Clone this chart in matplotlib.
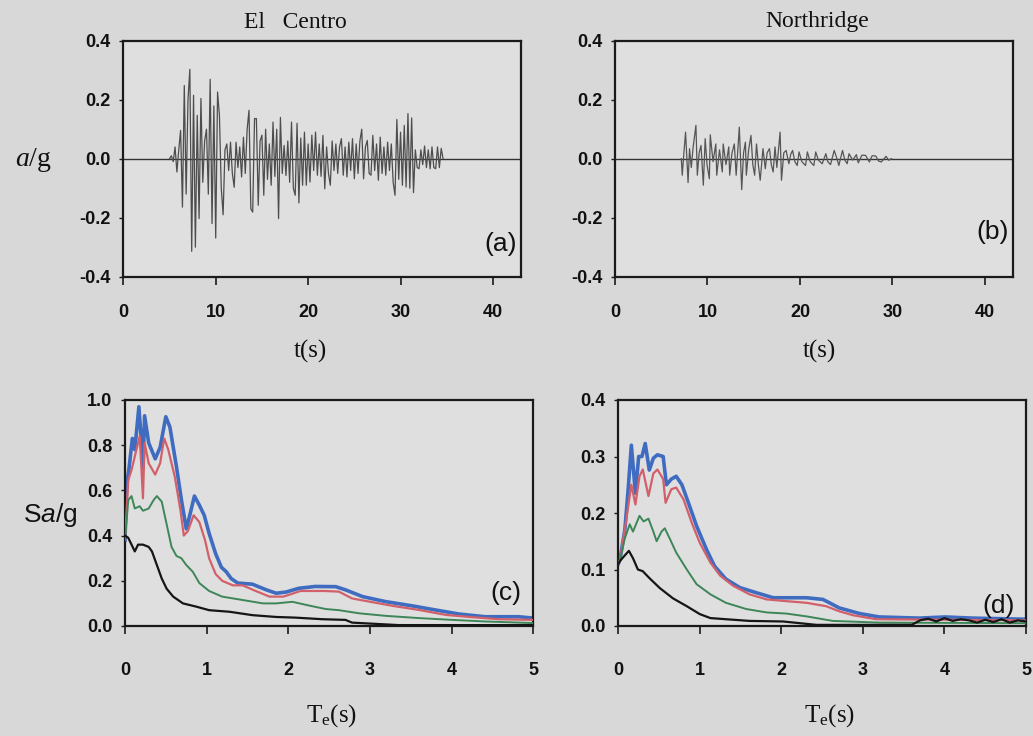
import numpy as np
import matplotlib
matplotlib.use("Agg")
import matplotlib.pyplot as plt

# ---------------- data ----------------
# (a) El Centro accelerogram, sampled every 0.2 s starting at 5.0 s
elc_t0 = 5.0
elc_dt = 0.2
elc_acc = [
    0.0, 0.01, -0.01, 0.04, -0.045,
    0.03, 0.096, -0.164, 0.248, -0.12,
    0.2, 0.303, -0.314, 0.215, -0.30,
    0.147, -0.203, 0.204, -0.08, 0.06,
    0.10, -0.12, 0.269, -0.22, 0.179,
    -0.269, 0.226, 0.147, -0.10, -0.19,
    0.03, 0.05, -0.04, 0.056, -0.05,
    -0.097, 0.056, -0.03, 0.04, -0.062,
    0.073, -0.05, 0.10, 0.164, -0.17,
    -0.181, 0.136, 0.136, -0.158, 0.06,
    0.08, -0.124, 0.10, -0.07, 0.05,
    -0.09, 0.124, -0.06, 0.10, -0.203,
    0.14, -0.05, 0.045, -0.057, 0.06,
    -0.08, 0.124, -0.10, -0.124, 0.12,
    -0.15, 0.07, -0.09, 0.09, -0.09,
    0.05, -0.079, 0.08, -0.04, 0.09,
    -0.056, 0.05, -0.06, 0.079, -0.102,
    0.04, -0.05, -0.09, 0.06, -0.04,
    0.05, -0.05, 0.04, 0.068, -0.056,
    0.04, -0.062, 0.056, -0.04, 0.068,
    -0.068, 0.05, -0.05, 0.06, 0.10,
    -0.068, 0.04, 0.062, -0.05, -0.056,
    0.079, -0.04, 0.05, -0.073, 0.073,
    -0.05, 0.04, -0.056, 0.056, -0.04,
    0.05, -0.08, -0.124, 0.133, -0.07,
    0.09, -0.09, 0.113, -0.096, 0.153,
    -0.10, 0.138, -0.115, 0.03, -0.03,
    -0.034, 0.03, -0.02, 0.043, -0.03,
    0.03, -0.034, 0.04, -0.03, -0.034,
    0.04, -0.03, 0.035, 0.0,
]

# (b) Northridge accelerogram
nor_t = [7.17, 7.27, 7.45, 7.63, 7.9, 8.06, 8.25, 8.45, 8.75, 8.9, 9.1, 9.3, 9.55,
         9.75, 9.95, 10.2, 10.3, 10.6, 10.9, 11.0, 11.3, 11.6, 11.7, 12.0, 12.3,
         12.4, 12.65, 12.9, 13.1, 13.44, 13.7, 13.9, 14.1, 14.2, 14.45, 14.7, 14.9,
         15.1, 15.3, 15.5, 15.7, 16.0, 16.25, 16.45, 16.7, 16.9, 17.1, 17.3, 17.5,
         17.85, 18.0, 18.25, 18.5, 18.8, 19.0, 19.2, 19.45, 19.7, 19.9, 20.2, 20.6,
         20.8, 21.1, 21.5, 21.7, 22.0, 22.4, 22.8, 23.0, 23.3, 23.7, 24.0, 24.2,
         24.6, 24.85, 25.1, 25.3, 25.7, 26.1, 26.3, 26.7, 27.1, 27.5, 27.8, 28.2,
         28.5, 28.8, 29.3, 29.6, 29.9]
nor_acc = [0.0, -0.056, 0.02, 0.09, -0.081, 0.034, -0.03, 0.04, 0.113, -0.056, 0.02,
           0.045, -0.09, 0.068, -0.02, -0.068, 0.081, -0.01, 0.05, -0.056, 0.03,
           -0.045, 0.05, -0.02, 0.04, -0.056, 0.02, 0.05, -0.056, 0.107, -0.105,
           0.02, 0.056, -0.056, 0.03, 0.079, -0.02, -0.056, 0.05, -0.02, -0.073,
           0.034, -0.034, 0.02, 0.034, -0.02, -0.045, 0.04, -0.03, 0.09, -0.073,
           0.02, 0.028, -0.017, 0.015, 0.028, -0.01, -0.023, 0.023, -0.01, -0.023,
           0.023, -0.01, -0.023, 0.023, -0.005, -0.017, 0.017, -0.01, -0.02, 0.028,
           0.0, -0.023, 0.028, -0.005, -0.017, 0.017, -0.005, 0.014, -0.014, 0.012,
           0.011, -0.011, 0.01, 0.009, -0.008, -0.011, 0.008, -0.005, 0.0]

# (c) El Centro response spectra
elc_T_blue = [0.0, 0.02, 0.05, 0.09, 0.12, 0.17, 0.20, 0.22, 0.24, 0.29, 0.37, 0.43,
              0.50, 0.55, 0.63, 0.69, 0.75, 0.79, 0.85, 0.91, 0.97, 1.03, 1.11, 1.18,
              1.24, 1.30, 1.38, 1.56, 1.73, 1.85, 1.97, 2.13, 2.33, 2.58, 2.70, 2.91,
              3.19, 3.52, 3.80, 4.09, 4.41, 4.82, 5.0]
elc_S_blue = [0.38, 0.62, 0.70, 0.83, 0.78, 0.97, 0.82, 0.70, 0.93, 0.81, 0.74, 0.79,
              0.926, 0.88, 0.705, 0.56, 0.43, 0.485, 0.575, 0.535, 0.49, 0.41, 0.32,
              0.26, 0.24, 0.21, 0.19, 0.185, 0.16, 0.145, 0.15, 0.167, 0.175, 0.174,
              0.16, 0.13, 0.108, 0.089, 0.071, 0.053, 0.041, 0.041, 0.035]
elc_T_red = [0.0, 0.04, 0.08, 0.14, 0.18, 0.22, 0.24, 0.29, 0.37, 0.43, 0.48, 0.53,
             0.61, 0.68, 0.72, 0.77, 0.84, 0.91, 0.98, 1.03, 1.11, 1.19, 1.32, 1.44,
             1.60, 1.77, 1.94, 2.15, 2.44, 2.62, 2.78, 2.99, 3.28, 3.60, 3.93, 4.25,
             4.58, 5.0]
elc_S_red = [0.38, 0.646, 0.69, 0.78, 0.84, 0.565, 0.81, 0.72, 0.67, 0.72, 0.83, 0.78,
             0.66, 0.51, 0.40, 0.42, 0.49, 0.46, 0.38, 0.30, 0.23, 0.20, 0.18, 0.18,
             0.155, 0.13, 0.13, 0.155, 0.155, 0.152, 0.122, 0.108, 0.089, 0.071,
             0.049, 0.039, 0.030, 0.027]
elc_T_green = [0.0, 0.04, 0.08, 0.12, 0.18, 0.22, 0.29, 0.35, 0.39, 0.45, 0.51, 0.57,
               0.63, 0.69, 0.75, 0.83, 0.91, 1.03, 1.19, 1.44, 1.69, 1.85, 2.05, 2.26,
               2.46, 2.62, 2.87, 3.19, 3.60, 4.01, 4.41, 5.0]
elc_S_green = [0.38, 0.557, 0.575, 0.52, 0.53, 0.51, 0.52, 0.557, 0.575, 0.55, 0.45,
               0.35, 0.31, 0.30, 0.27, 0.24, 0.19, 0.155, 0.13, 0.115, 0.10, 0.10,
               0.107, 0.09, 0.075, 0.07, 0.056, 0.045, 0.035, 0.027, 0.02, 0.013]
elc_T_black = [0.0, 0.04, 0.08, 0.12, 0.16, 0.22, 0.29, 0.33, 0.39, 0.45, 0.51, 0.59,
               0.71, 0.88, 1.03, 1.28, 1.56, 1.85, 2.09, 2.42, 2.70, 2.78, 3.35, 4.01,
               5.0]
elc_S_black = [0.40, 0.39, 0.36, 0.33, 0.36, 0.36, 0.35, 0.33, 0.27, 0.21, 0.165, 0.13,
               0.10, 0.085, 0.07, 0.063, 0.048, 0.04, 0.037, 0.03, 0.027, 0.015, 0.004,
               0.004, 0.004]

# (d) Northridge response spectra
nor_T_blue = [0.0, 0.02, 0.08, 0.12, 0.16, 0.21, 0.25, 0.29, 0.33, 0.38, 0.43, 0.48,
              0.55, 0.59, 0.65, 0.71, 0.78, 0.86, 0.96, 1.08, 1.18, 1.32, 1.49, 1.69,
              1.90, 2.15, 2.31, 2.51, 2.71, 2.96, 3.20, 3.69, 4.01, 4.34, 5.0]
nor_S_blue = [0.11, 0.117, 0.17, 0.24, 0.32, 0.235, 0.30, 0.30, 0.323, 0.276, 0.297,
              0.303, 0.30, 0.25, 0.26, 0.265, 0.25, 0.218, 0.177, 0.136, 0.106, 0.083,
              0.068, 0.059, 0.050, 0.050, 0.050, 0.047, 0.032, 0.022, 0.016, 0.014,
              0.016, 0.014, 0.012]
nor_T_red = [0.0, 0.02, 0.10, 0.16, 0.21, 0.26, 0.30, 0.37, 0.43, 0.48, 0.55, 0.58,
             0.65, 0.71, 0.80, 0.90, 1.00, 1.13, 1.25, 1.41, 1.61, 1.82, 2.06, 2.31,
             2.55, 2.71, 2.88, 3.16, 5.0]
nor_S_red = [0.11, 0.117, 0.19, 0.25, 0.215, 0.265, 0.277, 0.23, 0.27, 0.277, 0.26,
             0.218, 0.242, 0.245, 0.224, 0.183, 0.147, 0.112, 0.089, 0.071, 0.056,
             0.047, 0.044, 0.041, 0.035, 0.026, 0.019, 0.012, 0.010]
nor_T_green = [0.0, 0.02, 0.08, 0.14, 0.18, 0.26, 0.31, 0.37, 0.43, 0.47, 0.53, 0.57,
               0.63, 0.71, 0.84, 0.96, 1.13, 1.32, 1.57, 1.82, 2.06, 2.31, 2.63, 3.2,
               5.0]
nor_S_green = [0.11, 0.117, 0.155, 0.18, 0.167, 0.195, 0.185, 0.19, 0.167, 0.15, 0.167,
               0.173, 0.155, 0.13, 0.10, 0.074, 0.056, 0.041, 0.030, 0.024, 0.022,
               0.017, 0.009, 0.006, 0.005]
nor_T_black = [0.0, 0.02, 0.08, 0.13, 0.18, 0.24, 0.30, 0.38, 0.51, 0.67, 0.84, 1.00,
               1.13, 1.32, 1.61, 2.02, 2.43, 3.0, 3.6, 3.7, 3.8, 3.9, 4.0, 4.1, 4.2,
               4.3, 4.4, 4.5, 4.6, 4.7, 4.8, 4.9, 5.0]
nor_S_black = [0.11, 0.115, 0.125, 0.133, 0.12, 0.10, 0.097, 0.085, 0.067, 0.049,
               0.035, 0.021, 0.014, 0.012, 0.009, 0.008, 0.002, 0.002, 0.002, 0.010,
               0.013, 0.008, 0.014, 0.009, 0.012, 0.010, 0.006, 0.011, 0.007, 0.012,
               0.006, 0.010, 0.008]

time_ticks = [0, 10, 20, 30, 40]
acc_ticks = [-0.4, -0.2, 0.0, 0.2, 0.4]
per_ticks = [0, 1, 2, 3, 4, 5]
elc_sa_ticks = [0.0, 0.2, 0.4, 0.6, 0.8, 1.0]
nor_sa_ticks = [0.0, 0.1, 0.2, 0.3, 0.4]

# ---------------- style ----------------
plt.rcParams['mathtext.fontset'] = 'custom'
plt.rcParams['mathtext.rm'] = 'Liberation Serif'
plt.rcParams['mathtext.it'] = 'Liberation Serif:italic'
plt.rcParams['mathtext.bf'] = 'Liberation Sans:italic'

BG = '#d8d8d8'
AXBG = '#dfdfdf'
TICKFONT = ['Liberation Sans Narrow', 'DejaVu Sans Condensed', 'Liberation Sans']
SERIF = ['Liberation Serif', 'DejaVu Serif']

C_BLUE = '#3f6cc0'
C_RED = '#d2606a'
C_GREEN = '#3d8658'
C_BLACK = '#151515'

fig = plt.figure(figsize=(10.33, 7.36), dpi=100, facecolor=BG)

W, H = 1033.0, 736.0


def make_ax(l, r, t, b):
    return fig.add_axes([l / W, 1 - b / H, (r - l) / W, (b - t) / H])


ax_a = make_ax(123.3, 520.7, 40.7, 276.7)
ax_b = make_ax(615.0, 1012.7, 40.7, 276.7)
ax_c = make_ax(125.0, 533.3, 400.0, 626.0)
ax_d = make_ax(618.3, 1026.0, 400.0, 626.0)


def style(ax, xt, yt, yfmt, xpad):
    ax.set_facecolor(AXBG)
    for s in ax.spines.values():
        s.set_linewidth(1.6)
        s.set_color('#1a1a1a')
    ax.set_xticks(xt)
    ax.set_yticks(yt)
    ax.set_xticklabels([str(v) for v in xt])
    ax.set_yticklabels([yfmt.format(v) for v in yt])
    ax.tick_params(axis='x', direction='out', length=6, width=1.2, pad=xpad,
                   colors='#1a1a1a')
    ax.tick_params(axis='y', direction='out', length=3, width=1.0, pad=6,
                   colors='#1a1a1a')
    for lab in ax.get_xticklabels() + ax.get_yticklabels():
        lab.set_family(TICKFONT)
        lab.set_fontweight('bold')
        lab.set_fontsize(13)
        lab.set_color('#111111')


# (a)
t_elc = elc_t0 + elc_dt * np.arange(len(elc_acc))
ax_a.axhline(0.0, color='#333333', lw=1.0, zorder=1)
ax_a.plot(t_elc, elc_acc, color='#4d4d4d', lw=0.9, zorder=2)
ax_a.set_xlim(0, 43)
ax_a.set_ylim(-0.4, 0.4)
style(ax_a, time_ticks, acc_ticks, '{:.1f}', 14)

# (b)
ax_b.axhline(0.0, color='#333333', lw=1.0, zorder=1)
ax_b.plot(nor_t, nor_acc, color='#555555', lw=0.9, zorder=2)
ax_b.set_xlim(0, 43)
ax_b.set_ylim(-0.4, 0.4)
style(ax_b, time_ticks, acc_ticks, '{:.1f}', 14)

# (c)
ax_c.plot(elc_T_blue, elc_S_blue, color=C_BLUE, lw=2.6, zorder=2)
ax_c.plot(elc_T_red, elc_S_red, color=C_RED, lw=1.6, zorder=3)
ax_c.plot(elc_T_green, elc_S_green, color=C_GREEN, lw=1.4, zorder=4)
ax_c.plot(elc_T_black, elc_S_black, color=C_BLACK, lw=1.6, zorder=5)
ax_c.set_xlim(0, 5)
ax_c.set_ylim(0, 1.0)
style(ax_c, per_ticks, elc_sa_ticks, '{:.1f}', 20)

# (d)
ax_d.plot(nor_T_blue, nor_S_blue, color=C_BLUE, lw=2.6, zorder=2)
ax_d.plot(nor_T_red, nor_S_red, color=C_RED, lw=1.6, zorder=3)
ax_d.plot(nor_T_green, nor_S_green, color=C_GREEN, lw=1.4, zorder=4)
ax_d.plot(nor_T_black, nor_S_black, color=C_BLACK, lw=1.6, zorder=5)
ax_d.set_xlim(0, 5)
ax_d.set_ylim(0, 0.4)
style(ax_d, per_ticks, nor_sa_ticks, '{:.1f}', 20)

# panel tags
tagkw = dict(family=TICKFONT, fontsize=19, color='#111111', ha='right', va='center')
ax_a.text(0.99, 0.14, '(a)', transform=ax_a.transAxes, **tagkw)
ax_b.text(0.99, 0.19, '(b)', transform=ax_b.transAxes, **tagkw)
ax_c.text(0.972, 0.148, '(c)', transform=ax_c.transAxes, **tagkw)
ax_d.text(0.973, 0.09, '(d)', transform=ax_d.transAxes, **tagkw)

# titles
fig.text(295 / W, 1 - 22 / H, 'El   Centro', family=SERIF, fontsize=17,
         ha='center', va='center', color='#111111')
fig.text(817 / W, 1 - 22 / H, 'Northridge', family=SERIF, fontsize=17,
         ha='center', va='center', color='#111111')

# axis labels
xlab = dict(family=SERIF, fontsize=18, ha='center', va='center', color='#111111')
fig.text(310 / W, 1 - 351 / H, 't(s)', **xlab)
fig.text(819 / W, 1 - 351 / H, 't(s)', **xlab)
fig.text(332 / W, 1 - 716 / H, r'T$_\mathregular{e}$(s)', **xlab)
fig.text(830 / W, 1 - 716 / H, r'T$_\mathregular{e}$(s)', **xlab)

fig.text(33 / W, 1 - 160 / H, r'$a$/g', family=SERIF, fontsize=20,
         ha='center', va='center', color='#111111')
fig.text(50 / W, 1 - 515 / H, r'S$\mathbf{a}$/g', family=['Liberation Sans', 'DejaVu Sans'],
         fontsize=19, ha='center', va='center', color='#111111')

fig.savefig('out.png', dpi=100, facecolor=BG)
